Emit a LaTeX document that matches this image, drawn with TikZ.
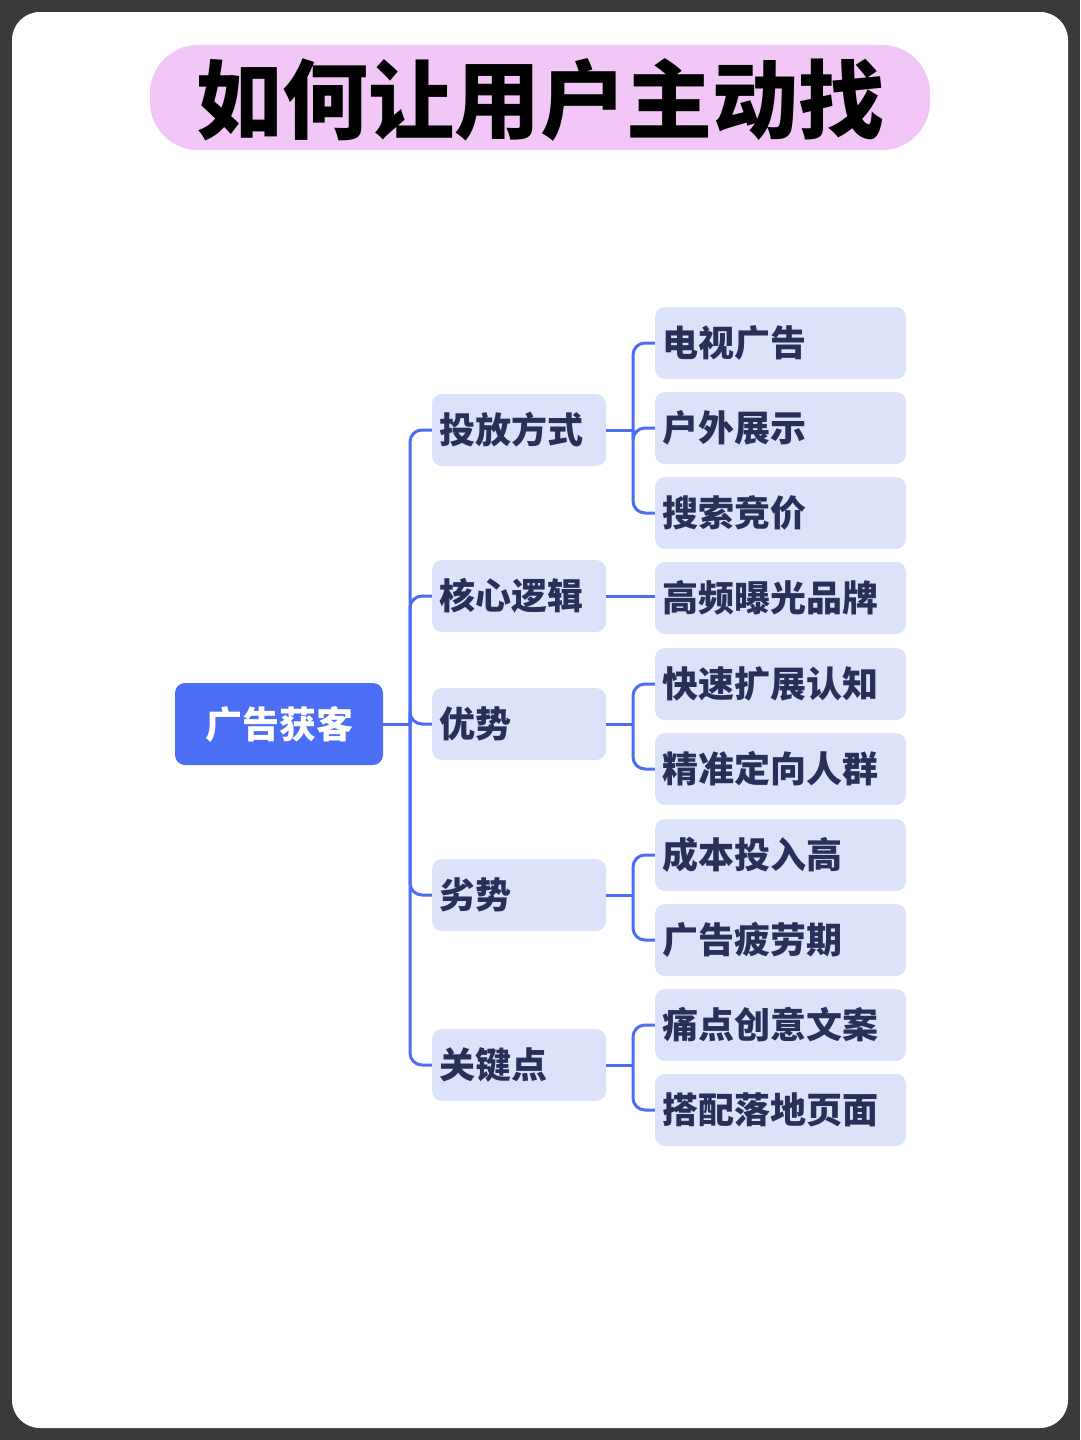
\documentclass[tikz,border=0pt]{standalone}
\usepackage{fontspec}
\newfontfamily\cjk{Noto Sans CJK SC}
\definecolor{frame}{HTML}{3A3A3A}
\definecolor{pinkb}{HTML}{F2C6F6}
\definecolor{bluem}{HTML}{4B6EF5}
\definecolor{lav}{HTML}{DDE2FB}
\definecolor{txt}{HTML}{28305A}
\begin{document}
\begin{tikzpicture}[x=1pt,y=-1pt,
  lone/.style={fill=lav,rounded corners=10pt,minimum width=174pt,minimum height=72pt,text width=160pt,align=left,inner sep=0pt,font=\cjk\bfseries\fontsize{36}{40}\selectfont,text=txt},
  ltwo/.style={lone,minimum width=251pt,text width=236pt},
  conn/.style={draw=bluem,line width=3pt,rounded corners=12pt}]
\useasboundingbox (0,0) rectangle (1080,1440);
\fill[frame] (0,0) rectangle (1080,1440);
\fill[white,rounded corners=28pt] (12,12) rectangle (1068,1428);
\fill[pinkb,rounded corners=48pt] (150,45) rectangle (930,150);
\node[font=\cjk\bfseries\fontsize{86}{90}\selectfont] (title) at (540,100) {如何让用户主动找};
\node[fill=bluem,rounded corners=10pt,minimum width=208pt,minimum height=82pt,inner sep=0pt,text=white,font=\cjk\bfseries\fontsize{37}{40}\selectfont] (root) at (279,724) {广告获客};
\coordinate (t) at (410,724);
\node[lone] (a) at (519,430) {投放方式};
\node[lone] (b) at (519,596) {核心逻辑};
\node[lone] (c) at (519,724) {优势};
\node[lone] (d) at (519,895) {劣势};
\node[lone] (e) at (519,1065) {关键点};
\node[ltwo] (a1) at (780.5,343) {电视广告};
\node[ltwo] (a2) at (780.5,428) {户外展示};
\node[ltwo] (a3) at (780.5,513) {搜索竞价};
\node[ltwo] (b1) at (780.5,598) {高频曝光品牌};
\node[ltwo] (c1) at (780.5,684) {快速扩展认知};
\node[ltwo] (c2) at (780.5,769) {精准定向人群};
\node[ltwo] (d1) at (780.5,855) {成本投入高};
\node[ltwo] (d2) at (780.5,940) {广告疲劳期};
\node[ltwo] (e1) at (780.5,1025) {痛点创意文案};
\node[ltwo] (e2) at (780.5,1110) {搭配落地页面};
\draw[conn] (root.east) -- (t);
\foreach \n in {a,b,c,d,e} \draw[conn] (t) |- (\n.west);
\coordinate (ta) at (633,430);
\coordinate (tc) at (633,724);
\coordinate (td) at (633,895);
\coordinate (te) at (633,1065);
\draw[conn] (a.east) -- (ta);
\foreach \n in {a1,a2,a3} \draw[conn] (ta) |- (\n.west);
\draw[conn] (b.east) -- (b.east -| b1.west);
\draw[conn] (c.east) -- (tc);
\foreach \n in {c1,c2} \draw[conn] (tc) |- (\n.west);
\draw[conn] (d.east) -- (td);
\foreach \n in {d1,d2} \draw[conn] (td) |- (\n.west);
\draw[conn] (e.east) -- (te);
\foreach \n in {e1,e2} \draw[conn] (te) |- (\n.west);
\end{tikzpicture}
\end{document}
